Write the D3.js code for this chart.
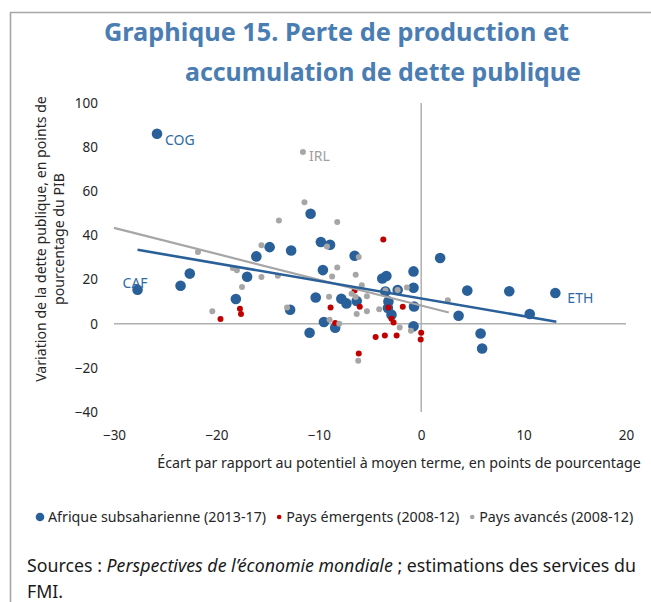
<!DOCTYPE html>
<html><head><meta charset="utf-8">
<script src="https://cdn.jsdelivr.net/npm/d3@7"></script>
<style>
html,body{margin:0;padding:0;background:#fff;}
text{font-family:"Noto Sans","Open Sans",sans-serif;}
</style></head>
<body>
<svg id="chart" width="651" height="602"></svg>
<script>
// ---------- data ----------
const xTicks = [-30, -20, -10, 0, 10, 20];
const yTicks = [-40, -20, 0, 20, 40, 60, 80, 100];

const seriesNames = ["Afrique subsaharienne (2013-17)", "Pays émergents (2008-12)", "Pays avancés (2008-12)"];

// Afrique subsaharienne (2013-17): [écart, variation dette]
const ssaPoints = [
  [-25.8,86.1],[-27.7,15.4],[13.1,13.9],[-23.5,17.2],[-22.6,22.7],[-18.1,11.2],
  [-17.0,21.3],[-16.1,30.5],[-14.8,34.7],[-10.8,49.8],[-12.7,33.2],[-9.8,37.0],
  [-8.9,35.8],[-6.5,30.8],[-9.6,24.3],[-3.8,20.5],[-3.4,21.6],[-0.75,23.7],
  [1.85,29.8],[-0.75,16.3],[-2.3,15.3],[-3.5,14.6],[-3.2,10.1],[-3.25,7.1],
  [-2.9,4.1],[-0.7,7.8],[-10.3,11.9],[-7.8,11.3],[-7.3,9.2],[-6.3,10.3],
  [-12.8,6.3],[-9.5,0.8],[-8.4,-1.8],[-10.9,-4.1],[-0.75,-1.2],[4.5,15.0],
  [8.6,14.7],[3.65,3.6],[10.6,4.4],[5.8,-4.4],[5.95,-11.2]
];
// Pays émergents (2008-12)
const emPoints = [
  [-17.7,6.8],[-17.6,4.4],[-19.6,2.1],[-3.7,38.2],[-6.5,15.1],[-8.85,7.4],
  [-6.0,7.7],[-3.2,7.4],[-1.8,7.7],[-2.9,2.3],[-2.7,0.6],[-8.4,0.3],
  [-4.45,-6.0],[-3.55,-5.3],[-2.4,-5.3],[0.0,-4.1],[-0.05,-7.1],[-6.1,-13.5]
];
// Pays avancés (2008-12)
const aePoints = [
  [-11.55,77.8],[-11.4,55.0],[-21.8,32.5],[-15.6,35.5],[-13.9,46.8],[-18.4,25.2],
  [-18.0,24.2],[-15.6,21.2],[-14.0,21.7],[-17.5,16.6],[-20.4,5.6],[-8.2,46.1],
  [-9.2,35.0],[-6.1,30.2],[-8.2,25.5],[-8.7,21.4],[-6.4,22.2],[-5.8,17.4],
  [-1.4,16.4],[-2.3,15.3],[-3.5,15.1],[-6.8,13.6],[-6.4,12.1],[-5.3,12.4],
  [-9.0,12.2],[-13.1,7.4],[-4.1,6.6],[-5.3,5.6],[-6.3,4.4],[-8.95,1.8],
  [-8.0,0.0],[-2.1,-1.7],[-1.0,-3.2],[2.6,10.6],[-6.15,-16.8]
];
// trend lines (end points)
const ssaTrend = [[-27.7,33.5],[13.2,0.9]];
const aeTrend  = [[-30.0,43.4],[2.7,5.1]];

// country labels
const labels = [
  {name:"COG", x:-25.8, y:86.1, series:0},
  {name:"CAF", x:-27.7, y:15.4, series:0},
  {name:"ETH", x:13.1,  y:13.9, series:0},
  {name:"IRL", x:-11.55,y:77.8, series:2}
];

// ---------- drawing ----------
const colors = ["#2a6099", "#c00000", "#a6a6a6"];
const labelColors = ["#2e6aa6", "#c00000", "#a0a0a0"];
const svg = d3.select("#chart");

// frame
svg.append("path").attr("d","M10.5,602 V12.5 H651")
  .attr("fill","none").attr("stroke","#a6a6a6").attr("stroke-width",1.6);

function fit(sel, width){
  const n = sel.node();
  const fs = parseFloat(sel.attr("font-size"));
  const w = n.getComputedTextLength();
  sel.attr("font-size", (fs*width/w).toFixed(2));
}

// title
const title = svg.append("g").attr("fill","#4a7db1").attr("font-weight","bold");
fit(title.append("text").attr("x",104).attr("y",41).attr("font-size",26).text("Graphique 15. Perte de production et"), 465);
fit(title.append("text").attr("x",185).attr("y",81).attr("font-size",26).text("accumulation de dette publique"), 396);

const x = d3.scaleLinear().domain([-30,20]).range([114,626]);
const y = d3.scaleLinear().domain([-40,100]).range([412,103]);

// zero lines
svg.append("line").attr("x1",x(-30)).attr("x2",x(20)).attr("y1",y(0)).attr("y2",y(0))
  .attr("stroke","#b0b0b0").attr("stroke-width",1.5);
svg.append("line").attr("x1",x(0)).attr("x2",x(0)).attr("y1",y(100)).attr("y2",y(-40))
  .attr("stroke","#b0b0b0").attr("stroke-width",1.5);

// axes
const yAxis = svg.append("g").attr("transform",`translate(${x(-30)},0)`)
  .call(d3.axisLeft(y).tickValues(yTicks).tickSize(0).tickPadding(16));
const xAxis = svg.append("g").attr("transform",`translate(0,${y(-40)})`)
  .call(d3.axisBottom(x).tickValues(xTicks).tickSize(0).tickPadding(18));
[yAxis, xAxis].forEach(a=>{
  a.select(".domain").remove();
  a.selectAll("text").attr("font-size",13.5).attr("fill","#262626")
   .attr("font-family","'Noto Sans','Open Sans',sans-serif");
});

// axis titles
const xt = svg.append("text").attr("x",399).attr("y",468).attr("text-anchor","middle")
  .attr("font-size",13).attr("fill","#262626")
  .text("Écart par rapport au potentiel à moyen terme, en points de pourcentage");
fit(xt, 484);
const yt = svg.append("g").attr("transform","translate(0,239) rotate(-90)");
const yt1 = yt.append("text").attr("x",0).attr("y",46).attr("text-anchor","middle")
  .attr("font-size",13).attr("fill","#262626").text("Variation de la dette publique, en points de");
fit(yt1, 286);
const yt2 = yt.append("text").attr("x",0).attr("y",64).attr("text-anchor","middle")
  .attr("font-size",yt1.attr("font-size")).attr("fill","#262626").text("pourcentage du PIB");

// points
const plot = svg.append("g");
const seriesData = [ssaPoints, emPoints, aePoints];
const radii = [5.3, 3.0, 3.0];
seriesData.forEach((pts,i)=>{
  plot.append("g").selectAll("circle").data(pts).join("circle")
    .attr("cx",d=>x(d[0])).attr("cy",d=>y(d[1])).attr("r",radii[i])
    .attr("fill",colors[i]);
});

// trend lines
const line = d3.line().x(d=>x(d[0])).y(d=>y(d[1]));
svg.append("path").attr("d",line(aeTrend)).attr("stroke","#a6a6a6").attr("stroke-width",2.2).attr("fill","none");
svg.append("path").attr("d",line(ssaTrend)).attr("stroke","#2a6099").attr("stroke-width",2.6).attr("fill","none");

// country labels
const offs = {COG:[8,11], CAF:[-15,-2], ETH:[12,10], IRL:[6,9]};
labels.forEach(l=>{
  svg.append("text").attr("x",x(l.x)+offs[l.name][0]).attr("y",y(l.y)+offs[l.name][1])
    .attr("font-size",14).attr("fill",labelColors[l.series]).text(l.name);
});

// legend: laid out sequentially, font size scaled so it spans 36..637
const leg = svg.append("g");
function layoutLegend(fs){
  leg.selectAll("*").remove();
  let cx = 40;
  seriesNames.forEach((n,i)=>{
    leg.append("circle").attr("cx",cx).attr("cy",517).attr("r",i===0?4.3:2.3).attr("fill",colors[i]);
    const t = leg.append("text").attr("x",cx+(i===0?8:7)).attr("y",521.5).attr("font-size",fs)
      .attr("fill","#262626").text(n);
    cx = cx + (i===0?8:7) + t.node().getComputedTextLength() + 13;
  });
  return cx - 13;
}
let fsL = 13;
const endL = layoutLegend(fsL);
fsL = fsL * (637-60)/(endL-60);
layoutLegend(fsL);

// sources
const src = svg.append("text").attr("x",27).attr("y",572).attr("font-size",16).attr("fill","#1a1a1a");
src.append("tspan").text("Sources : ");
src.append("tspan").attr("font-style","italic").text("Perspectives de l’économie mondiale");
src.append("tspan").text(" ; estimations des services du");
fit(src, 609);
svg.append("text").attr("x",27).attr("y",598).attr("font-size",src.attr("font-size")).attr("fill","#1a1a1a").text("FMI.");
</script>
</body></html>
